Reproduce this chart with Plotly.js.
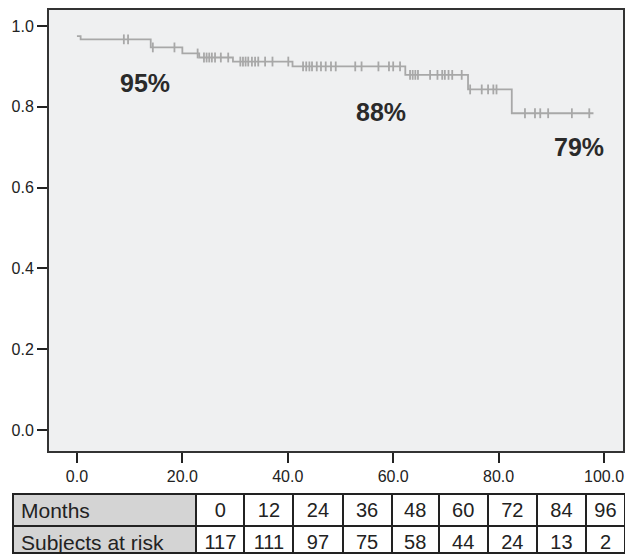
<!DOCTYPE html>
<html>
<head>
<meta charset="utf-8">
<script src="https://cdn.plot.ly/plotly-3.0.1.min.js"></script>
<style>html,body{margin:0;padding:0;background:#fff;}#chart{width:625px;height:554px;}</style>
</head>
<body>
<div id="chart"></div>
<script>
// Kaplan-Meier step curve: event times (months) and survival after each step
const stepTimes = [0, 0.7, 14.0, 20.0, 23.2, 29.6, 40.9, 62.3, 74.2, 82.5];
const stepSurv  = [0.975, 0.967, 0.947, 0.932, 0.922, 0.912, 0.900, 0.879, 0.843, 0.784];
const endTime = 98.0;

// Censored observations (months)
const censorTimes = [8.9, 9.7, 14.4, 18.5, 22.9,
  24.1, 24.6, 25.1, 25.6, 26.2, 27.3, 28.7,
  31.0, 31.5, 32.0, 32.5, 33.2, 33.8, 34.4, 35.7, 37.1, 40.1,
  42.9, 43.5, 44.1, 44.6, 45.5, 46.3, 47.2, 48.2, 49.1, 52.8, 54.0, 57.2, 59.2, 60.0, 61.3,
  63.2, 63.7, 64.2, 64.7, 67.0, 68.4, 69.3, 69.8, 70.5, 71.2, 73.0,
  74.6, 76.8, 78.0, 79.0, 79.6,
  85.0, 86.9, 87.9, 89.4, 93.9, 97.2];

// Annotated survival percentages
const pctLabels = ['95%', '88%', '79%'];

// Number-at-risk table
const tableRowLabels = ['Months', 'Subjects at risk'];
const riskMonths = [0, 12, 24, 36, 48, 60, 72, 84, 96];
const riskCounts = [117, 111, 97, 75, 58, 44, 24, 13, 2];

// ---- layout constants (positions/styles) ----
const W = 625, H = 554;
const labelPos = [[13.0, 0.859], [57.6, 0.788], [95.2, 0.701]];

function survAt(t) {
  let s = stepSurv[0];
  for (let i = 0; i < stepTimes.length; i++) { if (stepTimes[i] <= t) s = stepSurv[i]; }
  return s;
}

const lineX = stepTimes.concat([endTime]);
const lineY = stepSurv.concat([stepSurv[stepSurv.length - 1]]);
const curveColor = '#a8a8a8';

const curve = {
  type: 'scatter', mode: 'lines', x: lineX, y: lineY,
  line: {shape: 'hv', color: curveColor, width: 1.8},
  hoverinfo: 'skip', showlegend: false
};
const censors = {
  type: 'scatter', mode: 'markers', x: censorTimes, y: censorTimes.map(survAt),
  marker: {symbol: 'line-ns', size: 7, color: curveColor, line: {color: curveColor, width: 1.8}},
  hoverinfo: 'skip', showlegend: false
};

const narrow = 'Liberation Sans Narrow, Arial Narrow, Liberation Sans, Arial, sans-serif';
const normal = 'Liberation Sans, Arial, sans-serif';
const fams = [normal].concat(riskMonths.map(() => narrow));
const sizes = [21].concat(riskMonths.map(() => 20));
const fills = ['#d4d4d4'].concat(riskMonths.map(() => '#ffffff'));
const aligns = ['left'].concat(riskMonths.map(() => 'center'));

const table = {
  type: 'table',
  domain: {x: [13 / W, 1], y: [0, (H - 494) / H]},
  columnwidth: [183, 48, 49, 49, 49, 47, 49, 49, 49, 39],
  header: {
    values: [[tableRowLabels[0]]].concat(riskMonths.map(v => [String(v)])),
    height: 32,
    align: aligns,
    fill: {color: fills},
    line: {color: '#222', width: 2},
    font: {family: fams, size: sizes, color: '#222'}
  },
  cells: {
    values: [[tableRowLabels[1]]].concat(riskCounts.map(v => [String(v)])),
    height: 27,
    align: aligns,
    fill: {color: fills},
    line: {color: '#222', width: 2},
    font: {family: fams, size: sizes, color: '#222'}
  }
};

const annotations = pctLabels.map((t, i) => ({
  x: labelPos[i][0], y: labelPos[i][1], xref: 'x', yref: 'y', text: t, showarrow: false,
  font: {family: normal, size: 25, color: '#2a2a2a', weight: 'bold'}
}));

const layout = {
  width: W, height: H,
  margin: {l: 0, r: 0, t: 0, b: 0},
  paper_bgcolor: '#ffffff',
  plot_bgcolor: '#eff0f1',
  showlegend: false,
  font: {family: normal, size: 16, color: '#222'},
  xaxis: {
    domain: [49 / W, 623 / W],
    range: [-5.3, 103.6],
    tickvals: [0, 20, 40, 60, 80, 100], tickformat: '.1f',
    ticks: 'outside', ticklen: 10, tickwidth: 2, tickcolor: '#222',
    showline: true, linecolor: '#333', linewidth: 2, mirror: true,
    showgrid: false, zeroline: false,
    tickfont: {family: normal, size: 16, color: '#222'}
  },
  yaxis: {
    domain: [(H - 451) / H, (H - 10) / H],
    range: [-0.052, 1.0396],
    tickvals: [0, 0.2, 0.4, 0.6, 0.8, 1.0], tickformat: '.1f',
    ticks: 'outside', ticklen: 10, tickwidth: 2, tickcolor: '#222',
    showline: true, linecolor: '#333', linewidth: 2, mirror: true,
    showgrid: false, zeroline: false,
    tickfont: {family: normal, size: 16, color: '#222'}
  },
  annotations: annotations
};

Plotly.newPlot('chart', [curve, censors, table], layout, {displayModeBar: false, staticPlot: true});
</script>
</body>
</html>
